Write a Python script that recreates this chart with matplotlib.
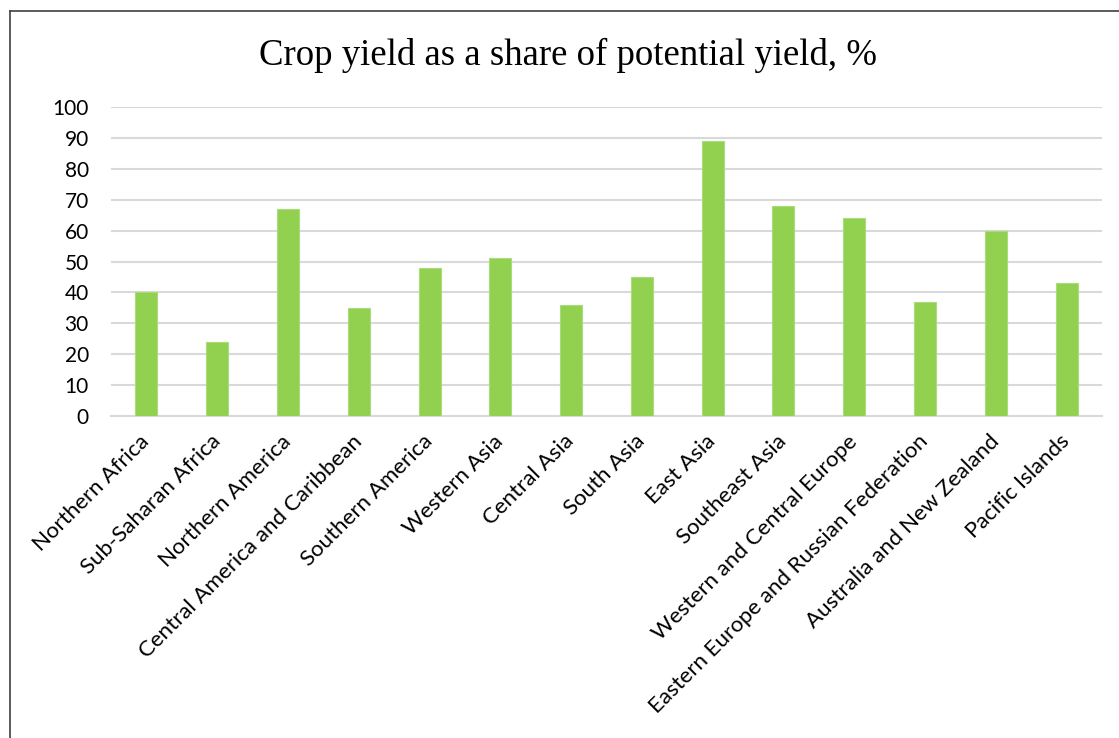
import matplotlib
matplotlib.use("Agg")
import matplotlib.pyplot as plt
from matplotlib.lines import Line2D

regions = ["Northern Africa", "Sub-Saharan Africa", "Northern America",
           "Central America and Caribbean", "Southern America", "Western Asia",
           "Central Asia", "South Asia", "East Asia", "Southeast Asia",
           "Western and Central Europe", "Eastern Europe and Russian Federation",
           "Australia and New Zealand", "Pacific Islands"]
values = [40, 24, 67, 35, 48, 51, 36, 45, 89, 68, 64, 37, 60, 43]
yticks = [0, 10, 20, 30, 40, 50, 60, 70, 80, 90, 100]
title = "Crop yield as a share of potential yield, %"

W, H = 1119, 738
fig = plt.figure(figsize=(W/100, H/100), dpi=100)
ax = fig.add_axes([111/W, 1-416/H, (1102-111)/W, (416-107)/H])

x = range(len(regions))
ax.bar(x, values, width=0.31, color="#92D050", edgecolor="#A9DC7A", linewidth=0.8, zorder=3)
ax.set_xlim(-0.5, len(regions)-0.5)
ax.set_ylim(0, 100)
ax.set_yticks(yticks)
ax.set_yticklabels([str(v) for v in yticks], fontsize=15, family="Lato")
ax.yaxis.grid(True, color="#D9D9D9", linewidth=1.5, zorder=0)
ax.set_axisbelow(True)
ax.tick_params(axis="y", length=0, pad=16)
ax.tick_params(axis="x", length=0, pad=16)
ax.set_xticks(list(x))
ax.set_xticklabels(regions, rotation=45, ha="right", va="center", rotation_mode="anchor",
                   fontsize=16, family="Lato")
for s in ["top", "right", "left"]:
    ax.spines[s].set_visible(False)
ax.spines["bottom"].set_color("#D9D9D9")
ax.spines["bottom"].set_linewidth(1.5)

fig.text(568/W, 1-55/H, title, ha="center", va="center", fontsize=26.5,
         family="Liberation Serif")

# outer border
fig.add_artist(Line2D([10/W, 10/W], [0, 1-11/H], transform=fig.transFigure, color="#404040", lw=1.2))
fig.add_artist(Line2D([10/W, 1], [1-11/H, 1-11/H], transform=fig.transFigure, color="#404040", lw=1.2))

fig.savefig("out.png", dpi=100)
